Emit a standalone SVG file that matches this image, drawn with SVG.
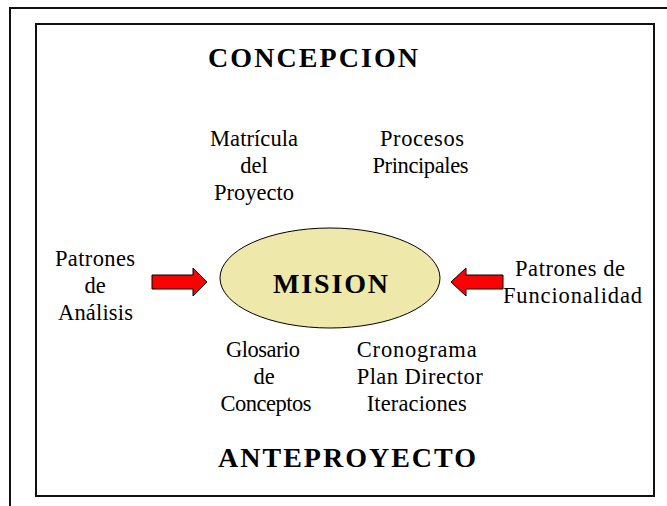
<svg xmlns="http://www.w3.org/2000/svg" width="667" height="506" viewBox="0 0 667 506">
<style>
.t{font-family:'Liberation Serif','Times New Roman',serif;font-size:22.5px;fill:#000;text-anchor:middle}
.h{font-family:'Liberation Serif','Times New Roman',serif;font-size:28px;font-weight:bold;fill:#000;text-anchor:middle}
.frame{fill:none;stroke:#111;stroke-width:2}
.arrow{fill:#FF0000;stroke:#000;stroke-width:1;stroke-linejoin:miter}
</style>
<rect width="667" height="506" fill="#fff"/>
<g id="frame">
<polyline class="frame" points="10,506 10,8 667,8"/>
<rect class="frame" x="36" y="24" width="618" height="472"/>
</g>
<g id="concepcion"><text class="h" x="313" y="67" textLength="210" lengthAdjust="spacing">CONCEPCION</text></g>
<g id="matricula">
<text class="t" x="254" y="146" textLength="88" lengthAdjust="spacing">Matrícula</text>
<text class="t" x="254" y="173">del</text>
<text class="t" x="254" y="200">Proyecto</text>
</g>
<g id="procesos">
<text class="t" x="422" y="146" textLength="84" lengthAdjust="spacing">Procesos</text>
<text class="t" x="420.5" y="173" textLength="96" lengthAdjust="spacing">Principales</text>
</g>
<g id="mision">
<ellipse cx="330" cy="278" rx="110" ry="50" fill="#EEE8AA" stroke="#000" stroke-width="1"/>
<text class="h" x="330.5" y="293" font-size="29" textLength="115" lengthAdjust="spacing">MISION</text>
</g>
<g id="patrones-analisis">
<text class="t" x="95" y="266" textLength="80" lengthAdjust="spacing">Patrones</text>
<text class="t" x="95" y="293">de</text>
<text class="t" x="95.5" y="320" textLength="75" lengthAdjust="spacing">Análisis</text>
</g>
<g id="patrones-funcionalidad">
<text class="t" x="570" y="276" textLength="110" lengthAdjust="spacing">Patrones de</text>
<text class="t" x="572.5" y="303" textLength="139" lengthAdjust="spacing">Funcionalidad</text>
</g>
<g id="glosario">
<text class="t" x="263" y="357" textLength="74" lengthAdjust="spacing">Glosario</text>
<text class="t" x="264" y="384">de</text>
<text class="t" x="266" y="411" textLength="91" lengthAdjust="spacing">Conceptos</text>
</g>
<g id="cronograma">
<text class="t" x="416.7" y="357" textLength="120" lengthAdjust="spacing">Cronograma</text>
<text class="t" x="419.7" y="384" textLength="126" lengthAdjust="spacing">Plan Director</text>
<text class="t" x="416.7" y="411" textLength="100" lengthAdjust="spacing">Iteraciones</text>
</g>
<g id="anteproyecto"><text class="h" x="347" y="467" textLength="258" lengthAdjust="spacing">ANTEPROYECTO</text></g>
<g id="connectors">
<polygon class="arrow" points="152,275 193,275 193,268 207,282 193,296 193,289 152,289"/>
<polygon class="arrow" points="503,275 466,275 466,268 451,282 466,296 466,289 503,289"/>
</g>
</svg>
